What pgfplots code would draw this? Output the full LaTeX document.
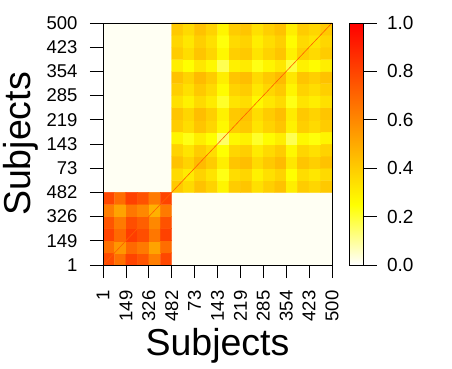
\documentclass[border=0pt]{standalone}
\usepackage{fontspec}
\setmainfont{Liberation Sans}
\usepackage{pgfplots}
\pgfplotsset{compat=1.18}

\definecolor{offc}{RGB}{255,255,243}
\definecolor{diagc}{RGB}{255,95,0}

\begin{document}
\begin{tikzpicture}
\path[use as bounding box] (0,0) rectangle (452pt,369pt);
\begin{axis}[
  at={(103pt,104pt)}, anchor=south west,
  scale only axis, width=229pt, height=242pt,
  xmin=-0.5, xmax=19.5, ymin=-0.5, ymax=19.5,
  xtick={-0.5,1.5,3.5,5.5,7.5,9.5,11.5,13.5,15.5,17.5,19.5},
  ytick={-0.5,1.5,3.5,5.5,7.5,9.5,11.5,13.5,15.5,17.5,19.5},
  xticklabels={1,149,326,482,73,143,219,285,354,423,500},
  yticklabels={1,149,326,482,73,143,219,285,354,423,500},
  tick align=outside, tick pos=left,
  major tick length=13pt,
  every tick/.style={black, line width=0.8pt},
  axis line style={line width=0.9pt},
  axis on top,
  ticklabel style={font=\fontsize{18.5}{20}\selectfont},
  xticklabel style={rotate=90, anchor=east},
  yticklabel style={anchor=east},
  xticklabel shift=9pt, yticklabel shift=9pt,
  xlabel={Subjects}, ylabel={Subjects},
  label style={font=\fontsize{37.5}{40}\selectfont},
  xlabel style={at={(axis description cs:0.5,-0.3719)}, anchor=base},
  ylabel style={at={(axis description cs:-0.3144,0.5)}, anchor=base},
  colormap={heat}{rgb255(0cm)=(255,255,255); rgb255(1cm)=(255,255,0); rgb255(4cm)=(255,0,0)},
  point meta min=0, point meta max=1,
  colorbar,
  colorbar style={
    at={(parent axis.north east)}, anchor=north west, xshift=9pt,
    scale only axis, width=14pt, height=242pt,
    ytick={0,0.2,0.4,0.6,0.8,1},
    yticklabels={0.0,0.2,0.4,0.6,0.8,1.0},
    tick align=outside, yticklabel pos=right, ytick pos=right,
    major tick length=13pt,
    every tick/.style={black, line width=0.8pt},
    axis line style={line width=0.9pt},
    yticklabel style={font=\fontsize{19}{20}\selectfont, anchor=west},
    yticklabel shift=7pt,
  },
]
% off-diagonal blocks (near zero similarity)
\addplot[draw=none, fill=offc, forget plot] coordinates {(5.5,-0.5) (19.5,-0.5) (19.5,5.5) (5.5,5.5)} -- cycle;
\addplot[draw=none, fill=offc, forget plot] coordinates {(-0.5,5.5) (5.5,5.5) (5.5,19.5) (-0.5,19.5)} -- cycle;

% group 1 block
\addplot[matrix plot*, mesh/cols=6, point meta=explicit, forget plot]
  table[row sep=\\, meta=c] {
x y c\\
0 0 0.78\\ 1 0 0.67\\ 2 0 0.80\\ 3 0 0.75\\ 4 0 0.63\\ 5 0 0.79\\
0 1 0.67\\ 1 1 0.56\\ 2 1 0.69\\ 3 1 0.64\\ 4 1 0.52\\ 5 1 0.68\\
0 2 0.80\\ 1 2 0.69\\ 2 2 0.82\\ 3 2 0.77\\ 4 2 0.65\\ 5 2 0.81\\
0 3 0.75\\ 1 3 0.64\\ 2 3 0.77\\ 3 3 0.72\\ 4 3 0.60\\ 5 3 0.76\\
0 4 0.63\\ 1 4 0.52\\ 2 4 0.65\\ 3 4 0.60\\ 4 4 0.48\\ 5 4 0.64\\
0 5 0.79\\ 1 5 0.68\\ 2 5 0.81\\ 3 5 0.76\\ 4 5 0.64\\ 5 5 0.80\\
};

% group 2 block
\addplot[matrix plot*, mesh/cols=14, point meta=explicit, forget plot]
  table[row sep=\\, meta=c] {
x y c\\
6 6 0.41\\ 7 6 0.36\\ 8 6 0.43\\ 9 6 0.38\\ 10 6 0.28\\ 11 6 0.40\\ 12 6 0.42\\ 13 6 0.34\\ 14 6 0.39\\ 15 6 0.43\\ 16 6 0.30\\ 17 6 0.40\\ 18 6 0.37\\ 19 6 0.41\\
6 7 0.36\\ 7 7 0.31\\ 8 7 0.38\\ 9 7 0.33\\ 10 7 0.23\\ 11 7 0.35\\ 12 7 0.37\\ 13 7 0.29\\ 14 7 0.34\\ 15 7 0.38\\ 16 7 0.25\\ 17 7 0.35\\ 18 7 0.32\\ 19 7 0.36\\
6 8 0.43\\ 7 8 0.38\\ 8 8 0.45\\ 9 8 0.40\\ 10 8 0.30\\ 11 8 0.42\\ 12 8 0.44\\ 13 8 0.36\\ 14 8 0.41\\ 15 8 0.45\\ 16 8 0.32\\ 17 8 0.42\\ 18 8 0.39\\ 19 8 0.43\\
6 9 0.38\\ 7 9 0.33\\ 8 9 0.40\\ 9 9 0.35\\ 10 9 0.25\\ 11 9 0.37\\ 12 9 0.39\\ 13 9 0.31\\ 14 9 0.36\\ 15 9 0.40\\ 16 9 0.27\\ 17 9 0.37\\ 18 9 0.34\\ 19 9 0.38\\
6 10 0.28\\ 7 10 0.23\\ 8 10 0.30\\ 9 10 0.25\\ 10 10 0.15\\ 11 10 0.27\\ 12 10 0.29\\ 13 10 0.21\\ 14 10 0.26\\ 15 10 0.30\\ 16 10 0.17\\ 17 10 0.27\\ 18 10 0.24\\ 19 10 0.28\\
6 11 0.40\\ 7 11 0.35\\ 8 11 0.42\\ 9 11 0.37\\ 10 11 0.27\\ 11 11 0.39\\ 12 11 0.41\\ 13 11 0.33\\ 14 11 0.38\\ 15 11 0.42\\ 16 11 0.29\\ 17 11 0.39\\ 18 11 0.36\\ 19 11 0.40\\
6 12 0.42\\ 7 12 0.37\\ 8 12 0.44\\ 9 12 0.39\\ 10 12 0.29\\ 11 12 0.41\\ 12 12 0.43\\ 13 12 0.35\\ 14 12 0.40\\ 15 12 0.44\\ 16 12 0.31\\ 17 12 0.41\\ 18 12 0.38\\ 19 12 0.42\\
6 13 0.34\\ 7 13 0.29\\ 8 13 0.36\\ 9 13 0.31\\ 10 13 0.21\\ 11 13 0.33\\ 12 13 0.35\\ 13 13 0.27\\ 14 13 0.32\\ 15 13 0.36\\ 16 13 0.23\\ 17 13 0.33\\ 18 13 0.30\\ 19 13 0.34\\
6 14 0.39\\ 7 14 0.34\\ 8 14 0.41\\ 9 14 0.36\\ 10 14 0.26\\ 11 14 0.38\\ 12 14 0.40\\ 13 14 0.32\\ 14 14 0.37\\ 15 14 0.41\\ 16 14 0.28\\ 17 14 0.38\\ 18 14 0.35\\ 19 14 0.39\\
6 15 0.43\\ 7 15 0.38\\ 8 15 0.45\\ 9 15 0.40\\ 10 15 0.30\\ 11 15 0.42\\ 12 15 0.44\\ 13 15 0.36\\ 14 15 0.41\\ 15 15 0.45\\ 16 15 0.32\\ 17 15 0.42\\ 18 15 0.39\\ 19 15 0.43\\
6 16 0.30\\ 7 16 0.25\\ 8 16 0.32\\ 9 16 0.27\\ 10 16 0.17\\ 11 16 0.29\\ 12 16 0.31\\ 13 16 0.23\\ 14 16 0.28\\ 15 16 0.32\\ 16 16 0.19\\ 17 16 0.29\\ 18 16 0.26\\ 19 16 0.30\\
6 17 0.40\\ 7 17 0.35\\ 8 17 0.42\\ 9 17 0.37\\ 10 17 0.27\\ 11 17 0.39\\ 12 17 0.41\\ 13 17 0.33\\ 14 17 0.38\\ 15 17 0.42\\ 16 17 0.29\\ 17 17 0.39\\ 18 17 0.36\\ 19 17 0.40\\
6 18 0.37\\ 7 18 0.32\\ 8 18 0.39\\ 9 18 0.34\\ 10 18 0.24\\ 11 18 0.36\\ 12 18 0.38\\ 13 18 0.30\\ 14 18 0.35\\ 15 18 0.39\\ 16 18 0.26\\ 17 18 0.36\\ 18 18 0.33\\ 19 18 0.37\\
6 19 0.41\\ 7 19 0.36\\ 8 19 0.43\\ 9 19 0.38\\ 10 19 0.28\\ 11 19 0.40\\ 12 19 0.42\\ 13 19 0.34\\ 14 19 0.39\\ 15 19 0.43\\ 16 19 0.30\\ 17 19 0.40\\ 18 19 0.37\\ 19 19 0.41\\
};

% self-similarity diagonal
\addplot[diagc, line width=0.6pt, forget plot] coordinates {(-0.5,-0.5) (5.5,5.5)};
\addplot[diagc, line width=0.6pt, forget plot] coordinates {(5.5,5.5) (19.5,19.5)};
\end{axis}
\end{tikzpicture}
\end{document}
